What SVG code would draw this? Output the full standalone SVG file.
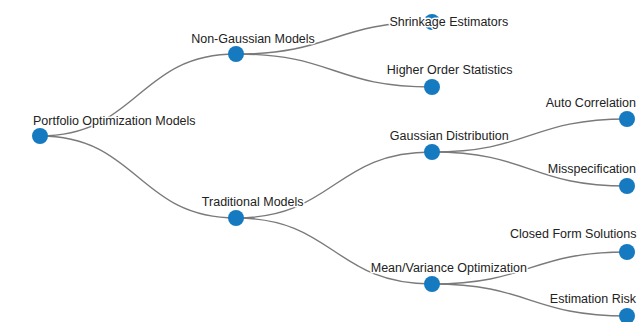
<svg xmlns="http://www.w3.org/2000/svg" width="637" height="322" viewBox="0 0 637 322">
  <style>
    .link { fill: none; stroke: #7a7a7a; stroke-width: 1.4; }
    .node circle { fill: #167ac0; }
    .node text { font-family: "Liberation Sans", Arial, sans-serif; font-size: 12.5px; fill: #222222;
                 stroke: #ffffff; stroke-width: 3px; stroke-linejoin: round; paint-order: stroke; }
    .mid { text-anchor: middle; }
    .leaf { text-anchor: end; }
  </style>
  <rect width="637" height="322" fill="#ffffff"/>

  <!-- tree links (horizontal cubic curves) -->
  <g id="links">
    <path class="link" d="M40,136 C138,136 138,54 236,54"/>
    <path class="link" d="M40,136 C138,136 138,218 236,218"/>
    <path class="link" d="M236,54 C334,54 334,22 432,22"/>
    <path class="link" d="M236,54 C334,54 334,87 432,87"/>
    <path class="link" d="M236,218 C334,218 334,152 432,152"/>
    <path class="link" d="M236,218 C334,218 334,284 432,284"/>
    <path class="link" d="M432,152 C530,152 530,119 627,119"/>
    <path class="link" d="M432,152 C530,152 530,186 627,186"/>
    <path class="link" d="M432,284 C530,284 530,252 627,252"/>
    <path class="link" d="M432,284 C530,284 530,316 627,316"/>
  </g>

  <!-- nodes: marker plus haloed label -->
  <g id="node-root" class="node"><circle cx="40" cy="136" r="8"/><text x="33" y="125">Portfolio Optimization Models</text></g>
  <g id="node-non-gaussian" class="node"><circle cx="236" cy="54" r="8"/><text class="mid" x="253" y="43">Non-Gaussian Models</text></g>
  <g id="node-traditional" class="node"><circle cx="236" cy="218" r="8"/><text class="mid" x="252.7" y="206">Traditional Models</text></g>
  <g id="node-shrinkage" class="node"><circle cx="432" cy="22" r="8"/><text class="mid" x="448.8" y="26">Shrinkage Estimators</text></g>
  <g id="node-higher-order" class="node"><circle cx="432" cy="87" r="8"/><text class="mid" x="449.7" y="74">Higher Order Statistics</text></g>
  <g id="node-gaussian" class="node"><circle cx="432" cy="152" r="8"/><text class="mid" x="449.2" y="140">Gaussian Distribution</text></g>
  <g id="node-mean-variance" class="node"><circle cx="432" cy="284" r="8"/><text class="mid" x="448.8" y="272">Mean/Variance Optimization</text></g>
  <g id="node-auto-correlation" class="node"><circle cx="627" cy="119" r="8"/><text class="leaf" x="636" y="107">Auto Correlation</text></g>
  <g id="node-misspecification" class="node"><circle cx="627" cy="186" r="8"/><text class="leaf" x="636" y="173">Misspecification</text></g>
  <g id="node-closed-form" class="node"><circle cx="627" cy="252" r="8"/><text class="leaf" x="636.5" y="238">Closed Form Solutions</text></g>
  <g id="node-estimation-risk" class="node"><circle cx="627" cy="316" r="8"/><text class="leaf" x="636" y="303">Estimation Risk</text></g>
</svg>
